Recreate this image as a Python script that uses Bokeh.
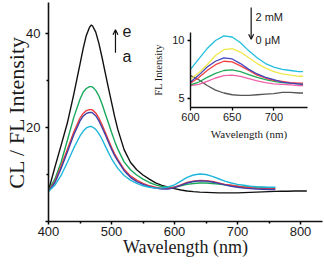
from bokeh.plotting import figure
from bokeh.models import Range1d, LinearAxis, FixedTicker, Label, Arrow, OpenHead
from bokeh.embed import file_html
from bokeh.resources import INLINE

# ---------------- data ----------------
main_wl = [400, 410, 420, 430, 440, 450, 455, 460, 465, 468, 470, 475, 480, 485, 490, 495,
           500, 505, 510, 520, 530, 540, 550, 560, 570, 580, 590, 600, 610, 620, 630, 640,
           650, 660, 670, 680, 690, 700, 710, 720, 730, 740, 750, 760]
black_wl = main_wl + [770, 780, 790, 800, 810]

black = [6.6, 11.5, 16.2, 21.0, 27.0, 33.5, 36.8, 39.6, 41.3, 41.8, 41.6, 40.3, 37.9, 34.9, 31.7, 28.5,
         25.4, 22.3, 19.6, 15.3, 12.6, 11.0, 9.9, 9.0, 8.2, 7.7, 7.3, 7.0, 6.7, 6.5, 6.35, 6.25,
         6.2, 6.15, 6.1, 6.1, 6.1, 6.1, 6.15, 6.2, 6.25, 6.3, 6.35, 6.4, 6.45, 6.45, 6.5, 6.5, 6.5]
green = [6.6, 9.0, 12.6, 17.3, 22.1, 26.0, 27.5, 28.3, 28.7, 28.7, 28.6, 27.9, 26.7, 25.0, 23.0, 21.0,
         19.0, 17.1, 15.4, 12.7, 11.0, 9.9, 9.0, 8.3, 7.8, 7.45, 7.3, 7.35, 7.6, 7.9, 8.1, 8.2,
         8.2, 8.1, 7.95, 7.8, 7.65, 7.5, 7.4, 7.35, 7.3, 7.25, 7.2, 7.2]
red = [6.5, 8.5, 11.8, 15.4, 19.0, 22.0, 23.0, 23.6, 23.8, 23.8, 23.7, 23.1, 22.0, 20.6, 19.0, 17.4,
       15.8, 14.4, 13.2, 11.1, 9.7, 8.8, 8.1, 7.6, 7.3, 7.1, 7.05, 7.3, 7.8, 8.3, 8.6, 8.75,
       8.7, 8.5, 8.2, 7.9, 7.7, 7.5, 7.3, 7.2, 7.1, 7.05, 7.0, 7.0]
blue = [6.4, 8.2, 11.3, 14.8, 18.4, 21.4, 22.4, 23.0, 23.2, 23.2, 23.1, 22.5, 21.4, 20.0, 18.5, 16.9,
        15.4, 14.0, 12.9, 10.8, 9.4, 8.5, 7.9, 7.4, 7.1, 6.9, 6.9, 7.2, 7.7, 8.2, 8.5, 8.65,
        8.6, 8.4, 8.1, 7.8, 7.5, 7.3, 7.1, 7.0, 6.9, 6.85, 6.8, 6.8]
cyan = [6.4, 7.7, 9.8, 12.6, 15.6, 18.2, 19.2, 19.9, 20.2, 20.2, 20.1, 19.6, 18.7, 17.5, 16.1, 14.7,
        13.4, 12.3, 11.3, 9.8, 8.8, 8.1, 7.6, 7.3, 7.1, 7.15, 7.35, 7.8, 8.6, 9.4, 9.9, 10.1,
        10.0, 9.6, 9.1, 8.6, 8.2, 7.9, 7.7, 7.5, 7.4, 7.35, 7.3, 7.3]

inset_wl = [600, 610, 620, 630, 640, 650, 660, 670, 680, 690, 700, 710, 720, 730, 735]
in_cyan = [7.5, 8.4, 9.3, 10.0, 10.4, 10.3, 9.8, 9.1, 8.5, 8.0, 7.7, 7.5, 7.4, 7.3, 7.3]
in_yellow = [6.65, 7.2, 7.9, 8.7, 9.2, 9.3, 9.0, 8.5, 8.0, 7.6, 7.3, 7.1, 7.0, 6.9, 6.9]
in_blue = [6.4, 7.0, 7.7, 8.2, 8.5, 8.4, 8.0, 7.5, 7.1, 6.8, 6.6, 6.4, 6.3, 6.25, 6.2]
in_red = [6.3, 6.8, 7.4, 7.9, 8.2, 8.15, 7.8, 7.4, 7.0, 6.75, 6.55, 6.45, 6.35, 6.3, 6.3]
in_green = [6.15, 6.4, 6.8, 7.15, 7.4, 7.45, 7.3, 7.05, 6.8, 6.6, 6.45, 6.35, 6.3, 6.25, 6.2]
in_pink = [6.1, 6.2, 6.45, 6.75, 6.95, 7.0, 6.9, 6.7, 6.5, 6.35, 6.25, 6.2, 6.15, 6.1, 6.1]
in_gray = [6.95, 6.6, 6.1, 5.7, 5.45, 5.3, 5.25, 5.25, 5.3, 5.35, 5.4, 5.5, 5.5, 5.45, 5.45]

x_ticks = [400, 500, 600, 700, 800]
x_minor = [450, 550, 650, 750]
y_ticks = [0, 20, 40]
y_minor = [10, 30]
in_x_ticks = [600, 650, 700]
in_y_ticks = [5, 10]

# ---------------- figure ----------------
TXT = "#1a1a1a"
SANS = "Liberation Sans"
SERIF = "Liberation Serif"

p = figure(width=324, height=267, x_range=Range1d(400, 834.9), y_range=Range1d(0, 46.6),
           output_backend="svg", toolbar_location=None,
           min_border_left=48, min_border_right=2, min_border_top=2, min_border_bottom=46)
p.outline_line_color = None
p.grid.visible = False
p.background_fill_color = "white"

p.extra_x_ranges = {"ix": Range1d(429.6, 758.4)}
p.extra_y_ranges = {"iy": Range1d(-5.68, 13.29)}

main_x = p.xaxis[0]
main_y = p.yaxis[0]

for ax in (main_x, main_y):
    ax.axis_line_width = 1.6
    ax.axis_line_color = "#111111"
    ax.major_tick_line_width = 1.5
    ax.minor_tick_line_width = 1.5
    ax.major_tick_in = 0
    ax.major_tick_out = 3
    ax.minor_tick_in = 0
    ax.minor_tick_out = 2
    ax.major_label_text_font = SANS
    ax.major_label_text_font_size = "13px"
    ax.major_label_text_color = TXT
    ax.axis_label_text_font_style = "normal"
    ax.axis_label_text_color = TXT

main_x.ticker = FixedTicker(ticks=x_ticks, minor_ticks=x_minor)
main_x.major_label_standoff = 2
main_x.axis_label = "Wavelength (nm)"
main_x.axis_label_text_font = SERIF
main_x.axis_label_text_font_size = "18px"
main_x.axis_label_standoff = -2

main_y.ticker = FixedTicker(ticks=y_ticks, minor_ticks=y_minor)
main_y.major_label_overrides = {0: ""}
main_y.major_label_standoff = 5
main_y.axis_label = "CL / FL Intensity"
main_y.axis_label_text_font = SERIF
main_y.axis_label_text_font_size = "22px"
main_y.axis_label_standoff = -6

# main curves
p.line(black_wl, black, line_color="#111111", line_width=1.4)
p.line(main_wl, green, line_color="#19a85c", line_width=1.4)
p.line(main_wl, red, line_color="#ee3b3b", line_width=1.4)
p.line(main_wl, blue, line_color="#3f3fa8", line_width=1.4)
p.line(main_wl, cyan, line_color="#1fb6dc", line_width=1.4)

# e / a annotation
p.add_layout(Arrow(end=OpenHead(size=5, line_width=1.2, line_color="#111111"),
                   x_start=506.3, y_start=35.9, x_end=506.3, y_end=40.8,
                   line_width=1.2, line_color="#111111"))
p.add_layout(Label(x=517.5, y=40.6, text="e", text_baseline="middle",
                   text_font=SANS, text_font_size="16px", text_color=TXT))
p.add_layout(Label(x=517.5, y=35.1, text="a", text_baseline="middle",
                   text_font=SANS, text_font_size="16px", text_color=TXT))

# ---------------- inset ----------------
ix_axis = LinearAxis(x_range_name="ix", y_range_name="iy", fixed_location=4.22,
                     bounds=(600, 740), ticker=FixedTicker(ticks=in_x_ticks, minor_ticks=[]),
                     axis_label="Wavelength (nm)")
iy_axis = LinearAxis(x_range_name="ix", y_range_name="iy", fixed_location=600,
                     bounds=(4.22, 10.7), ticker=FixedTicker(ticks=in_y_ticks, minor_ticks=[]),
                     axis_label="FL Intensity")
for ax in (ix_axis, iy_axis):
    ax.axis_line_width = 1.4
    ax.axis_line_color = "#111111"
    ax.major_tick_line_width = 1.3
    ax.major_tick_in = 0
    ax.major_tick_out = 3
    ax.minor_tick_in = 0
    ax.minor_tick_out = 0
    ax.major_label_text_font = SANS
    ax.major_label_text_font_size = "11px"
    ax.major_label_text_color = TXT
    ax.major_label_standoff = 3
    ax.axis_label_text_font = SERIF
    ax.axis_label_text_font_style = "normal"
    ax.axis_label_text_color = TXT
ix_axis.axis_label_text_font_size = "11px"
ix_axis.axis_label_standoff = 3
iy_axis.axis_label_text_font_size = "10.5px"
iy_axis.axis_label_standoff = 5
p.add_layout(ix_axis, "below")
p.add_layout(iy_axis, "left")

for ys, col in ((in_gray, "#555555"), (in_pink, "#f060a8"), (in_green, "#22aa5a"),
                (in_red, "#f04040"), (in_blue, "#4444bb"), (in_yellow, "#f0e84a"),
                (in_cyan, "#22bfdc")):
    p.line(inset_wl, ys, line_color=col, line_width=1.3, x_range_name="ix", y_range_name="iy")

p.add_layout(Arrow(end=OpenHead(size=5, line_width=1.2, line_color="#111111"),
                   x_start=672.8, y_start=12.86, x_end=672.8, y_end=10.1,
                   line_width=1.2, line_color="#111111", x_range_name="ix", y_range_name="iy"))
p.add_layout(Label(x=678, y=12.0, text="2 mM", text_baseline="middle",
                   text_font=SANS, text_font_size="11px", text_color=TXT,
                   x_range_name="ix", y_range_name="iy"))
p.add_layout(Label(x=678, y=10.0, text="0 μM", text_baseline="middle",
                   text_font=SANS, text_font_size="11px", text_color=TXT,
                   x_range_name="ix", y_range_name="iy"))

open("out.html", "w").write(file_html(p, INLINE))
